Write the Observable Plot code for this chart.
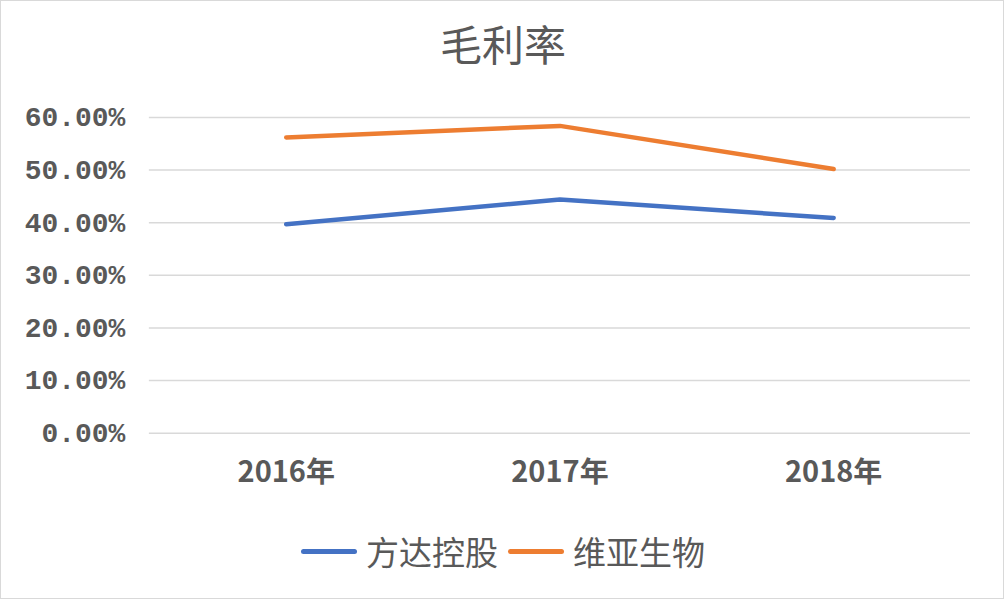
<!DOCTYPE html>
<html><head><meta charset="utf-8">
<script src="https://cdn.jsdelivr.net/npm/d3@7"></script>
<script src="https://cdn.jsdelivr.net/npm/@observablehq/plot@0.6"></script>
<style>
body{margin:0;background:#fff;}
#wrap{width:1004px;height:599px;box-sizing:border-box;border:1px solid #d9d9d9;position:relative;overflow:hidden;background:#fff;}
#title{position:absolute;left:0;top:14px;width:1004px;text-align:center;font-family:"Noto Sans CJK SC",sans-serif;font-size:42px;line-height:56px;color:#595959;}
#chart{position:absolute;left:-1px;top:89px;}
#legend{position:absolute;left:0;top:526px;width:1004px;display:flex;justify-content:center;align-items:center;font-family:"Noto Sans CJK SC",sans-serif;font-size:33px;color:#595959;}
.sw{display:inline-block;width:56px;height:5px;border-radius:3px;margin:0 9px 0 0;}
.item{display:flex;align-items:center;margin:0 5px;}
</style></head>
<body><div id="wrap"><div id="title"></div><div id="chart"></div><div id="legend"></div></div>
<script>
const years = ["2016年", "2017年", "2018年"];
const seriesNames = ["方达控股", "维亚生物"];
const fangda = [39.7, 44.4, 40.9];
const weiya = [56.2, 58.4, 50.2];
const yTicks = [0, 10, 20, 30, 40, 50, 60];
const colors = ["#4472C4", "#ED7D31"];
const titleText = "毛利率";

document.getElementById("title").textContent = titleText;

const data = [];
[fangda, weiya].forEach((vals, i) => vals.forEach((v, j) => data.push({series: seriesNames[i], year: years[j], value: v})));

const chart = Plot.plot({
  width: 1004, height: 410,
  marginLeft: 149, marginRight: 33, marginTop: 27, marginBottom: 67,
  style: {background: "transparent", color: "#595959"},
  x: {type: "point", domain: years, padding: 0.5, label: null},
  y: {domain: [0, 60], label: null},
  color: {domain: seriesNames, range: colors},
  marks: [
    Plot.gridY(yTicks, {stroke: "#d9d9d9", strokeOpacity: 1, strokeWidth: 1.5}),
    Plot.axisY(yTicks, {tickSize: 0, tickPadding: 24, tickFormat: d => d.toFixed(2) + "%", fontSize: 28, fontFamily: "Liberation Mono", fontWeight: "bold", fill: "#595959", label: null}),
    Plot.axisX({tickSize: 0, tickPadding: 28, fontSize: 29, fontFamily: "Liberation Sans Narrow, Noto Sans CJK SC", fontWeight: "bold", fill: "#595959", label: null}),
    Plot.line(data, {x: "year", y: "value", z: "series", stroke: "series", strokeWidth: 4.5, strokeLinecap: "round"})
  ]
});
document.getElementById("chart").appendChild(chart);

const lg = document.getElementById("legend");
seriesNames.forEach((n, i) => {
  const it = document.createElement("span"); it.className = "item";
  const sw = document.createElement("span"); sw.className = "sw"; sw.style.background = colors[i];
  const tx = document.createElement("span"); tx.textContent = n;
  it.appendChild(sw); it.appendChild(tx); lg.appendChild(it);
});
</script></body></html>
